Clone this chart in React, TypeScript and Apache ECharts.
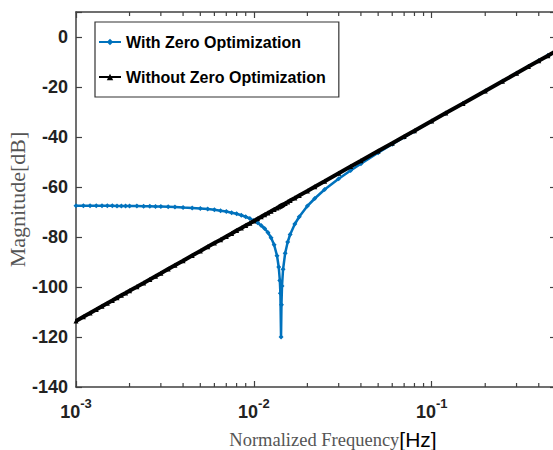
import React, { useEffect, useRef } from "react";
import * as echarts from "echarts";

const frequencies = [
  0.001, 0.0011, 0.0012, 0.0013, 0.0014, 0.0015, 0.0016, 0.0017, 0.0018, 0.0019,
  0.002, 0.0022, 0.0024, 0.0026, 0.0028, 0.003, 0.0033, 0.0036, 0.004, 0.0045,
  0.005, 0.0055, 0.006, 0.0065, 0.007, 0.0075, 0.008, 0.0085, 0.009, 0.0095,
  0.01, 0.0105, 0.011, 0.0115, 0.012, 0.0125, 0.013, 0.0135, 0.0138, 0.014,
  0.0141, 0.01422, 0.0143, 0.0144, 0.0146, 0.015, 0.0155, 0.016, 0.017, 0.018,
  0.02, 0.022, 0.025, 0.03, 0.035, 0.04, 0.05, 0.06, 0.07, 0.08,
  0.1, 0.12, 0.15, 0.2, 0.25, 0.3, 0.35, 0.4, 0.45, 0.5,
];

const withZeroOpt = [
  -67.5, -67.5, -67.5, -67.5, -67.5, -67.5, -67.5, -67.6, -67.6, -67.6,
  -67.6, -67.6, -67.7, -67.7, -67.8, -67.8, -67.9, -68.0, -68.2, -68.4,
  -68.6, -68.8, -69.1, -69.5, -69.8, -70.3, -70.7, -71.3, -71.9, -72.6,
  -73.4, -74.3, -75.4, -76.6, -78.2, -80.3, -83.1, -87.5, -92.0, -97.4,
  -102.5, -120.0, -107.1, -99.6, -92.9, -86.5, -82.0, -79.0, -74.8, -71.9,
  -67.6, -64.6, -61.0, -56.7, -53.4, -50.7, -46.3, -42.9, -40.1, -37.7,
  -33.7, -30.5, -26.6, -21.6, -17.7, -14.5, -11.8, -9.5, -7.4, -5.6,
];

const withoutZeroOpt = [
  -113.6, -111.9, -110.4, -109.0, -107.7, -106.5, -105.4, -104.3, -103.3, -102.4,
  -101.5, -99.9, -98.4, -97.0, -95.7, -94.5, -92.8, -91.3, -89.5, -87.4,
  -85.6, -83.9, -82.4, -81.1, -79.8, -78.6, -77.4, -76.4, -75.4, -74.5,
  -73.6, -72.7, -71.9, -71.1, -70.4, -69.7, -69.0, -68.4, -68.0, -67.7,
  -67.6, -67.4, -67.3, -67.2, -67.0, -66.6, -66.0, -65.4, -64.4, -63.4,
  -61.6, -59.9, -57.7, -54.5, -51.8, -49.5, -45.6, -42.5, -39.8, -37.5,
  -33.6, -30.4, -26.6, -21.6, -17.7, -14.5, -11.8, -9.5, -7.5, -5.6,
];

const minorTickValues = [
  0.002, 0.003, 0.004, 0.005, 0.006, 0.007, 0.008, 0.009,
  0.02, 0.03, 0.04, 0.05, 0.06, 0.07, 0.08, 0.09,
  0.2, 0.3, 0.4,
];

const seriesNames = ["With Zero Optimization", "Without Zero Optimization"];
const yLabel = "Magnitude[dB]";
const xLabelMain = "Normalized Frequency";
const xLabelUnit = "[Hz]";

const AXIS_COLOR = "#404040";

export default function App() {
  const ref = useRef<HTMLDivElement>(null);

  useEffect(() => {
    document.body.style.margin = "0";
    const chart = echarts.init(ref.current!, null, { renderer: "svg" });

    const logLabel = (v: number) => {
      const l = Math.log10(v);
      const e = Math.round(l);
      if (Math.abs(l - e) > 1e-6) return "";
      return `{b|10}{s|${e}}`;
    };

    const tickStyle = { lineStyle: { color: AXIS_COLOR, width: 1.2 } };

    chart.setOption({
      animation: false,
      backgroundColor: "#ffffff",
      grid: {
        left: 76,
        top: 12,
        right: -3,
        bottom: 63,
        containLabel: false,
        outerBoundsMode: "none",
      },
      legend: {
        left: 95,
        top: 22,
        orient: "vertical",
        data: seriesNames,
        borderColor: "#333",
        borderWidth: 1.2,
        backgroundColor: "#fff",
        padding: [12, 13, 12, 3],
        itemGap: 19,
        itemWidth: 22,
        itemHeight: 8,
        textStyle: {
          fontFamily: "Liberation Sans",
          fontWeight: "bold",
          fontSize: 16,
          color: "#000",
        },
      },
      xAxis: [
        {
          type: "log",
          logBase: 10,
          min: 0.001,
          max: 0.5,
          position: "bottom",
          name: `{g|${xLabelMain}}{h|${xLabelUnit}}`,
          nameLocation: "middle",
          nameGap: 42,
          nameMoveOverlap: false,
          nameTextStyle: {
            padding: [0, 0, 0, 34],
            rich: {
              g: { fontFamily: "Liberation Serif", fontSize: 18.5, color: "#555" },
              h: { fontFamily: "Liberation Sans", fontSize: 21, color: "#000" },
            },
          },
          axisLine: { onZero: false, lineStyle: { color: AXIS_COLOR, width: 1.5 } },
          axisTick: { inside: true, length: 6, ...tickStyle },
          splitLine: { show: false },
          minorTick: { show: false },
          axisLabel: {
            formatter: logLabel,
            margin: 10,
            rich: {
              b: { fontFamily: "Liberation Sans", fontWeight: "bold", fontSize: 18, color: "#222", verticalAlign: "bottom", lineHeight: 24 },
              s: { fontFamily: "Liberation Sans", fontWeight: "bold", fontSize: 13, color: "#222", verticalAlign: "top", lineHeight: 24, padding: [0, 0, 10, 0] },
            },
          },
        },
        {
          type: "log",
          logBase: 10,
          min: 0.001,
          max: 0.5,
          position: "top",
          axisLine: { onZero: false, lineStyle: { color: AXIS_COLOR, width: 1.5 } },
          axisTick: { inside: true, length: 6, ...tickStyle },
          axisLabel: { show: false },
          splitLine: { show: false },
        },
      ],
      yAxis: [
        {
          type: "value",
          min: -140,
          max: 10,
          interval: 20,
          position: "left",
          name: yLabel,
          nameLocation: "middle",
          nameRotate: 90,
          nameGap: 48,
          nameMoveOverlap: false,
          nameTextStyle: {
            fontFamily: "Liberation Serif",
            fontSize: 22,
            color: "#555",
          },
          axisLine: { onZero: false, lineStyle: { color: AXIS_COLOR, width: 1.5 } },
          axisTick: { inside: true, length: 6, ...tickStyle },
          splitLine: { show: false },
          axisLabel: {
            formatter: (v: number) => (v > 0 ? "" : String(v)),
            fontFamily: "Liberation Sans",
            fontWeight: "bold",
            fontSize: 18,
            color: "#222",
            margin: 8,
          },
        },
        {
          type: "value",
          min: -140,
          max: 10,
          interval: 20,
          position: "right",
          axisLine: { show: true, onZero: false, lineStyle: { color: AXIS_COLOR, width: 1.5 } },
          axisTick: { show: true, inside: true, length: 6, ...tickStyle },
          axisLabel: { show: false },
          splitLine: { show: false },
        },
      ],
      series: [
        {
          name: seriesNames[0],
          type: "line",
          data: frequencies.map((f, i) => [f, withZeroOpt[i]]),
          color: "#0072BD",
          lineStyle: { color: "#0072BD", width: 2.5 },
          itemStyle: { color: "#0072BD" },
          symbol: "diamond",
          symbolSize: 5,
          showSymbol: true,
          z: 2,
        },
        {
          name: seriesNames[1],
          type: "line",
          data: frequencies.map((f, i) => [f, withoutZeroOpt[i]]),
          color: "#000",
          lineStyle: { color: "#000", width: 4 },
          itemStyle: { color: "#000" },
          symbol: "triangle",
          symbolSize: 5,
          showSymbol: true,
          z: 3,
        },
        {
          type: "custom",
          silent: true,
          data: minorTickValues.map((v) => [v, -140]),
          clip: false,
          renderItem: (params: any, api: any) => {
            const p = api.coord([api.value(0), api.value(1)]);
            const cs = params.coordSys;
            const style = { stroke: AXIS_COLOR, lineWidth: 1.2 };
            return {
              type: "group",
              children: [
                { type: "line", shape: { x1: p[0], y1: cs.y + cs.height, x2: p[0], y2: cs.y + cs.height - 4 }, style },
                { type: "line", shape: { x1: p[0], y1: cs.y, x2: p[0], y2: cs.y + 4 }, style },
              ],
            };
          },
          z: 1,
        },
      ],
    });

    return () => chart.dispose();
  }, []);

  return <div ref={ref} style={{ width: 553, height: 450 }} />;
}
